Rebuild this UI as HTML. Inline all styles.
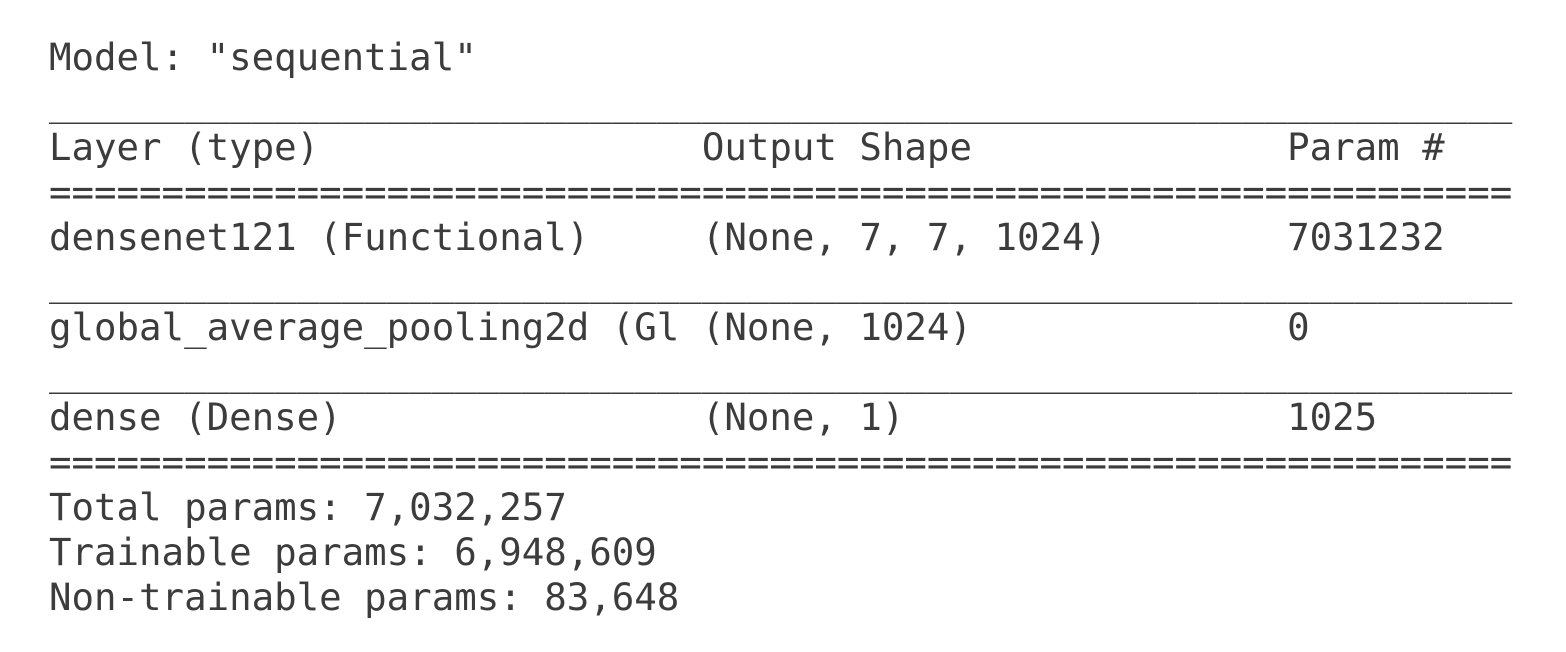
<!DOCTYPE html>
<html><head><meta charset="utf-8"><style>
html,body{margin:0;padding:0;background:#fff;width:1566px;height:652px;overflow:hidden}
pre{position:absolute;left:49px;top:35px;margin:0;font-family:"DejaVu Sans Mono","Liberation Mono",monospace;font-size:37.4px;line-height:45px;color:#3c3c3c;white-space:pre}
</style></head><body>
<pre><span>Model: "sequential"</span>
_________________________________________________________________
<span>Layer (type)                 Output Shape              Param #   </span>
=================================================================
<span>densenet121 (Functional)     (None, 7, 7, 1024)        7031232   </span>
_________________________________________________________________
<span>global_average_pooling2d (Gl (None, 1024)              0         </span>
_________________________________________________________________
<span>dense (Dense)                (None, 1)                 1025      </span>
=================================================================
<span>Total params: 7,032,257</span>
<span>Trainable params: 6,948,609</span>
<span>Non-trainable params: 83,648</span></pre>
</body></html>
